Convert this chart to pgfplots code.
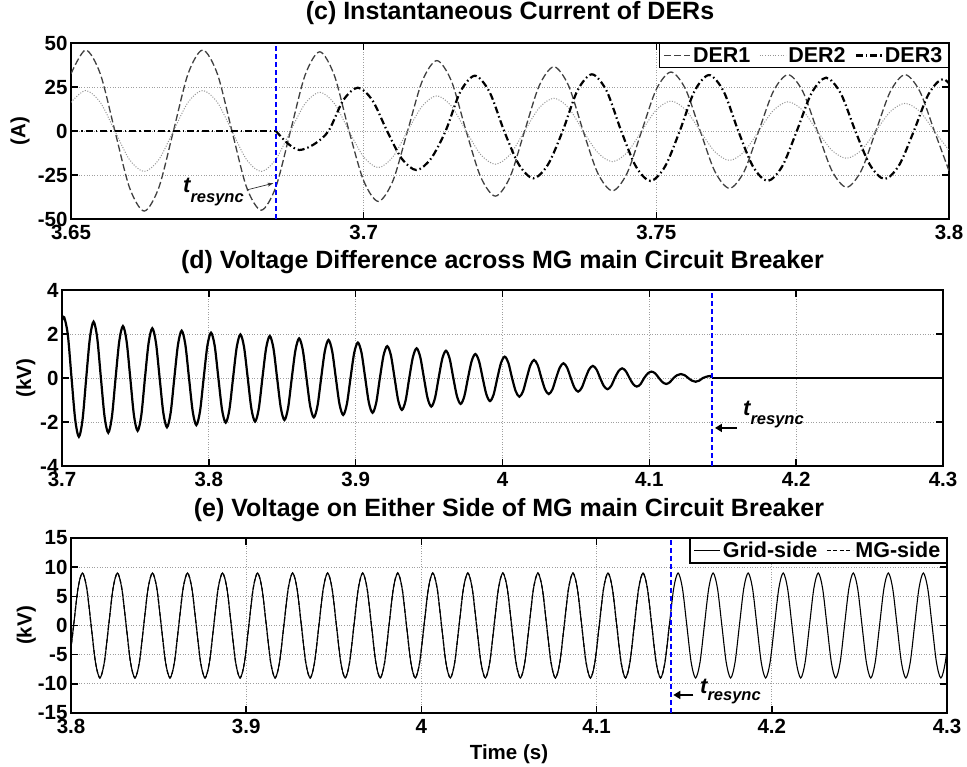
\documentclass[border=0pt]{standalone}
\usepackage{pgfplots}
\pgfplotsset{compat=1.18}
\usepackage{pgfplotstable}
\usepackage{fontspec}
\setmainfont{Liberation Sans}
\usetikzlibrary{arrows.meta}

\newcommand{\tickfont}{\fontsize{20.5}{24}\selectfont\bfseries}
\newcommand{\legfont}{\fontsize{21.5}{24}\selectfont\bfseries}
\newcommand{\titlefont}{\fontsize{25}{30}\selectfont\bfseries}
\newcommand{\tfont}{\fontsize{22}{22}\selectfont\bfseries\itshape}
\newcommand{\sfont}{\fontsize{16.5}{16.5}\selectfont\bfseries\itshape}

% ---------------- (c) DER currents ----------------
\pgfplotstableread[row sep=\\]{
t v\\
3.65 32.5\\ 3.6525 46\\ 3.655 32.5\\ 3.6575 0\\ 3.66 -32.2\\ 3.6625 -45.5\\ 3.665 -32.2\\ 3.6675 0\\
3.67 32.5\\ 3.6725 46\\ 3.675 32.5\\ 3.6775 0\\ 3.68 -32\\ 3.6825 -45\\ 3.685 -31.8\\ 3.6875 0\\
3.69 31.8\\ 3.6925 45\\ 3.695 31.5\\ 3.6975 0\\ 3.70 -28.3\\ 3.7025 -40\\ 3.705 -28.3\\ 3.7075 0\\
3.71 28.3\\ 3.7125 40\\ 3.715 28.3\\ 3.7175 0\\ 3.72 -26.2\\ 3.7225 -37\\ 3.725 -26.2\\ 3.7275 0\\
3.73 25.8\\ 3.7325 36.5\\ 3.735 25.8\\ 3.7375 0\\ 3.74 -24\\ 3.7425 -34\\ 3.745 -24\\ 3.7475 0\\
3.75 23.7\\ 3.7525 33.5\\ 3.755 23.7\\ 3.7575 0\\ 3.76 -23\\ 3.7625 -32.6\\ 3.765 -23\\ 3.7675 0\\
3.77 22.6\\ 3.7725 32\\ 3.775 22.6\\ 3.7775 0\\ 3.78 -22.6\\ 3.7825 -32\\ 3.785 -22.6\\ 3.7875 0\\
3.79 22.6\\ 3.7925 32\\ 3.795 22.6\\ 3.7975 0\\ 3.80 -22.6\\
}\derA

\pgfplotstableread[row sep=\\]{
t v\\
3.65 16.3\\ 3.6525 23\\ 3.655 16.3\\ 3.6575 0\\ 3.66 -16.3\\ 3.6625 -23\\ 3.665 -16.3\\ 3.6675 0\\
3.67 16.3\\ 3.6725 23\\ 3.675 16.3\\ 3.6775 0\\ 3.68 -16.3\\ 3.6825 -23\\ 3.685 -16.1\\ 3.6875 0\\
3.69 15.6\\ 3.6925 22\\ 3.695 15.6\\ 3.6975 0\\ 3.70 -14.7\\ 3.7025 -20.8\\ 3.705 -14.7\\ 3.7075 0\\
3.71 14.1\\ 3.7125 20\\ 3.715 14.1\\ 3.7175 0\\ 3.72 -13.4\\ 3.7225 -18.9\\ 3.725 -13.4\\ 3.7275 0\\
3.73 13.2\\ 3.7325 18.6\\ 3.735 13.2\\ 3.7375 0\\ 3.74 -12.3\\ 3.7425 -17.4\\ 3.745 -12.3\\ 3.7475 0\\
3.75 12\\ 3.7525 17\\ 3.755 12\\ 3.7575 0\\ 3.76 -11.8\\ 3.7625 -16.7\\ 3.765 -11.8\\ 3.7675 0\\
3.77 11.7\\ 3.7725 16.6\\ 3.775 11.7\\ 3.7775 0\\ 3.78 -11\\ 3.7825 -15.5\\ 3.785 -11\\ 3.7875 0\\
3.79 11.1\\ 3.7925 15.7\\ 3.795 11.1\\ 3.7975 0\\ 3.80 -11\\
}\derB

\pgfplotstableread[row sep=\\]{
t v\\
3.685 0\\ 3.687 -7\\ 3.689 -10.8\\ 3.6915 -7.6\\ 3.694 0\\ 3.6965 17.4\\ 3.699 24.6\\ 3.7015 17.4\\
3.704 0\\ 3.7065 -15.7\\ 3.709 -22.2\\ 3.7115 -15.7\\ 3.714 0\\ 3.7165 22.2\\ 3.719 31.4\\ 3.7215 22.2\\
3.724 0\\ 3.7265 -19\\ 3.729 -26.9\\ 3.7315 -19\\ 3.734 0\\ 3.7365 22.8\\ 3.739 32.2\\ 3.7415 22.8\\
3.744 0\\ 3.7465 -20.1\\ 3.749 -28.4\\ 3.7515 -20.1\\ 3.754 0\\ 3.7565 22.5\\ 3.759 31.8\\ 3.7615 22.5\\
3.764 0\\ 3.7665 -20.1\\ 3.769 -28.4\\ 3.7715 -20.1\\ 3.774 0\\ 3.7765 21.4\\ 3.779 30.3\\ 3.7815 21.4\\
3.784 0\\ 3.7865 -19.3\\ 3.789 -27.3\\ 3.7915 -19.3\\ 3.794 0\\ 3.7965 20.9\\ 3.799 29.5\\ 3.8015 20.9\\
}\derC

% ---------------- (d) voltage difference ----------------
\pgfplotstableread[row sep=\\]{
t v\\
3.7 2.62\\
3.7015 2.76\\ 3.704 1.95\\ 3.7065 0\\ 3.709 -1.89\\ 3.7115 -2.67\\ 3.714 -1.89\\ 3.7165 0\\ 3.719 1.81\\
3.7215 2.56\\ 3.724 1.81\\ 3.7265 0\\ 3.729 -1.76\\ 3.7315 -2.49\\ 3.734 -1.76\\ 3.7365 0\\ 3.739 1.67\\
3.7415 2.36\\ 3.744 1.67\\ 3.7465 0\\ 3.749 -1.70\\ 3.7515 -2.40\\ 3.754 -1.70\\ 3.7565 0\\ 3.759 1.60\\
3.7615 2.26\\ 3.764 1.60\\ 3.7665 0\\ 3.769 -1.58\\ 3.7715 -2.24\\ 3.774 -1.58\\ 3.7765 0\\ 3.779 1.52\\
3.7815 2.15\\ 3.784 1.52\\ 3.7865 0\\ 3.789 -1.51\\ 3.7915 -2.14\\ 3.794 -1.51\\ 3.7965 0\\ 3.799 1.46\\
3.8015 2.06\\ 3.804 1.46\\ 3.8065 0\\ 3.809 -1.44\\ 3.8115 -2.03\\ 3.814 -1.44\\ 3.8165 0\\ 3.819 1.40\\
3.8215 1.98\\ 3.824 1.40\\ 3.8265 0\\ 3.829 -1.40\\ 3.8315 -1.98\\ 3.834 -1.40\\ 3.8365 0\\ 3.839 1.35\\
3.8415 1.91\\ 3.844 1.35\\ 3.8465 0\\ 3.849 -1.35\\ 3.8515 -1.91\\ 3.854 -1.35\\ 3.8565 0\\ 3.859 1.27\\
3.8615 1.80\\ 3.864 1.27\\ 3.8665 0\\ 3.869 -1.27\\ 3.8715 -1.79\\ 3.874 -1.27\\ 3.8765 0\\ 3.879 1.22\\
3.8815 1.73\\ 3.884 1.22\\ 3.8865 0\\ 3.889 -1.19\\ 3.8915 -1.68\\ 3.894 -1.19\\ 3.8965 0\\ 3.899 1.14\\
3.9015 1.61\\ 3.904 1.14\\ 3.9065 0\\ 3.909 -1.12\\ 3.9115 -1.58\\ 3.914 -1.12\\ 3.9165 0\\ 3.919 1.03\\
3.9215 1.45\\ 3.924 1.03\\ 3.9265 0\\ 3.929 -1.03\\ 3.9315 -1.45\\ 3.934 -1.03\\ 3.9365 0\\ 3.939 0.95\\
3.9415 1.35\\ 3.944 0.95\\ 3.9465 0\\ 3.949 -0.92\\ 3.9515 -1.30\\ 3.954 -0.92\\ 3.9565 0\\ 3.959 0.88\\
3.9615 1.24\\ 3.964 0.88\\ 3.9665 0\\ 3.969 -0.83\\ 3.9715 -1.18\\ 3.974 -0.83\\ 3.9765 0\\ 3.979 0.77\\
3.9815 1.09\\ 3.984 0.77\\ 3.9865 0\\ 3.989 -0.74\\ 3.9915 -1.05\\ 3.994 -0.74\\ 3.9965 0\\ 3.999 0.69\\
4.0015 0.97\\ 4.004 0.69\\ 4.0065 0\\ 4.009 -0.60\\ 4.0115 -0.85\\ 4.014 -0.60\\ 4.0165 0\\ 4.019 0.58\\
4.0215 0.82\\ 4.024 0.58\\ 4.0265 0\\ 4.029 -0.52\\ 4.0315 -0.73\\ 4.034 -0.52\\ 4.0365 0\\ 4.039 0.47\\
4.0415 0.67\\ 4.044 0.47\\ 4.0465 0\\ 4.049 -0.44\\ 4.0515 -0.62\\ 4.054 -0.44\\ 4.0565 0\\ 4.059 0.39\\
4.0615 0.55\\ 4.064 0.39\\ 4.0665 0\\ 4.069 -0.36\\ 4.0715 -0.51\\ 4.074 -0.36\\ 4.0765 0\\ 4.079 0.31\\
4.0815 0.44\\ 4.084 0.31\\ 4.0865 0\\ 4.089 -0.28\\ 4.0915 -0.39\\ 4.094 -0.28\\ 4.0965 0\\ 4.099 0.21\\
4.1015 0.29\\ 4.104 0.21\\ 4.1065 0\\ 4.109 -0.19\\ 4.1115 -0.27\\ 4.114 -0.19\\ 4.1165 0\\ 4.119 0.13\\
4.1215 0.18\\ 4.124 0.13\\ 4.1265 0\\ 4.129 -0.12\\ 4.1315 -0.17\\ 4.134 -0.12\\ 4.1365 0\\ 4.139 0.06\\
4.1415 0.09\\ 4.1425 0\\
}\vdiff

% ---------------- (e) grid / MG side voltage ----------------
\pgfplotstableread[row sep=\\]{
t v\\
3.799 -6.36\\
3.8015 0\\ 3.804 6.36\\ 3.8065 9\\ 3.809 6.36\\ 3.8115 0\\ 3.814 -6.36\\ 3.8165 -9\\ 3.819 -6.36\\
3.8215 0\\ 3.824 6.36\\ 3.8265 9\\ 3.829 6.36\\ 3.8315 0\\ 3.834 -6.36\\ 3.8365 -9\\ 3.839 -6.36\\
3.8415 0\\ 3.844 6.36\\ 3.8465 9\\ 3.849 6.36\\ 3.8515 0\\ 3.854 -6.36\\ 3.8565 -9\\ 3.859 -6.36\\
3.8615 0\\ 3.864 6.36\\ 3.8665 9\\ 3.869 6.36\\ 3.8715 0\\ 3.874 -6.36\\ 3.8765 -9\\ 3.879 -6.36\\
3.8815 0\\ 3.884 6.36\\ 3.8865 9\\ 3.889 6.36\\ 3.8915 0\\ 3.894 -6.36\\ 3.8965 -9\\ 3.899 -6.36\\
3.9015 0\\ 3.904 6.36\\ 3.9065 9\\ 3.909 6.36\\ 3.9115 0\\ 3.914 -6.36\\ 3.9165 -9\\ 3.919 -6.36\\
3.9215 0\\ 3.924 6.36\\ 3.9265 9\\ 3.929 6.36\\ 3.9315 0\\ 3.934 -6.36\\ 3.9365 -9\\ 3.939 -6.36\\
3.9415 0\\ 3.944 6.36\\ 3.9465 9\\ 3.949 6.36\\ 3.9515 0\\ 3.954 -6.36\\ 3.9565 -9\\ 3.959 -6.36\\
3.9615 0\\ 3.964 6.36\\ 3.9665 9\\ 3.969 6.36\\ 3.9715 0\\ 3.974 -6.36\\ 3.9765 -9\\ 3.979 -6.36\\
3.9815 0\\ 3.984 6.36\\ 3.9865 9\\ 3.989 6.36\\ 3.9915 0\\ 3.994 -6.36\\ 3.9965 -9\\ 3.999 -6.36\\
4.0015 0\\ 4.004 6.36\\ 4.0065 9\\ 4.009 6.36\\ 4.0115 0\\ 4.014 -6.36\\ 4.0165 -9\\ 4.019 -6.36\\
4.0215 0\\ 4.024 6.36\\ 4.0265 9\\ 4.029 6.36\\ 4.0315 0\\ 4.034 -6.36\\ 4.0365 -9\\ 4.039 -6.36\\
4.0415 0\\ 4.044 6.36\\ 4.0465 9\\ 4.049 6.36\\ 4.0515 0\\ 4.054 -6.36\\ 4.0565 -9\\ 4.059 -6.36\\
4.0615 0\\ 4.064 6.36\\ 4.0665 9\\ 4.069 6.36\\ 4.0715 0\\ 4.074 -6.36\\ 4.0765 -9\\ 4.079 -6.36\\
4.0815 0\\ 4.084 6.36\\ 4.0865 9\\ 4.089 6.36\\ 4.0915 0\\ 4.094 -6.36\\ 4.0965 -9\\ 4.099 -6.36\\
4.1015 0\\ 4.104 6.36\\ 4.1065 9\\ 4.109 6.36\\ 4.1115 0\\ 4.114 -6.36\\ 4.1165 -9\\ 4.119 -6.36\\
4.1215 0\\ 4.124 6.36\\ 4.1265 9\\ 4.129 6.36\\ 4.1315 0\\ 4.134 -6.36\\ 4.1365 -9\\ 4.139 -6.36\\
4.1415 0\\ 4.144 6.36\\ 4.1465 9\\ 4.149 6.36\\ 4.1515 0\\ 4.154 -6.36\\ 4.1565 -9\\ 4.159 -6.36\\
4.1615 0\\ 4.164 6.36\\ 4.1665 9\\ 4.169 6.36\\ 4.1715 0\\ 4.174 -6.36\\ 4.1765 -9\\ 4.179 -6.36\\
4.1815 0\\ 4.184 6.36\\ 4.1865 9\\ 4.189 6.36\\ 4.1915 0\\ 4.194 -6.36\\ 4.1965 -9\\ 4.199 -6.36\\
4.2015 0\\ 4.204 6.36\\ 4.2065 9\\ 4.209 6.36\\ 4.2115 0\\ 4.214 -6.36\\ 4.2165 -9\\ 4.219 -6.36\\
4.2215 0\\ 4.224 6.36\\ 4.2265 9\\ 4.229 6.36\\ 4.2315 0\\ 4.234 -6.36\\ 4.2365 -9\\ 4.239 -6.36\\
4.2415 0\\ 4.244 6.36\\ 4.2465 9\\ 4.249 6.36\\ 4.2515 0\\ 4.254 -6.36\\ 4.2565 -9\\ 4.259 -6.36\\
4.2615 0\\ 4.264 6.36\\ 4.2665 9\\ 4.269 6.36\\ 4.2715 0\\ 4.274 -6.36\\ 4.2765 -9\\ 4.279 -6.36\\
4.2815 0\\ 4.284 6.36\\ 4.2865 9\\ 4.289 6.36\\ 4.2915 0\\ 4.294 -6.36\\ 4.2965 -9\\ 4.299 -6.36\\
4.3015 0\\
}\vgrid

\pgfplotsset{
  panel/.style={
    scale only axis, anchor=south west,
    axis line style={line width=1.5pt},
    every tick/.style={black, line width=1.5pt},
    major tick length=7pt,
    grid=major,
    grid style={line width=0.7pt, gray!75, dash pattern=on 1pt off 1.6pt},
    tick label style={font=\tickfont},
    xticklabel style={yshift=-3pt},
    /pgf/number format/assume math mode=true,
    title style={at={(0.5,1)}, anchor=base, font=\titlefont},
    ylabel style={font=\tickfont, anchor=center},
    xlabel style={font=\tickfont},
    legend style={draw=black, line width=1.5pt, fill=white, font=\legfont,
      at={(1,1)}, anchor=north east, inner xsep=4pt, inner ysep=1.5pt,
      /tikz/every even column/.append style={column sep=7pt}},
    legend cell align=left,
    legend image code/.code={\draw[##1] (0pt,0pt) -- (26pt,0pt);},
  },
  resync/.style={blue, line width=1.8pt, dash pattern=on 5pt off 3pt, forget plot},
}

\begin{document}
\begin{tikzpicture}[x=1pt,y=1pt]
\useasboundingbox (0,0) rectangle (967,767);

% ---------- (c) ----------
\begin{axis}[panel, at={(71pt,548pt)}, width=878pt, height=176pt,
  xmin=3.65, xmax=3.8, ymin=-50, ymax=50,
  xtick={3.65,3.7,3.75,3.8}, ytick={-50,-25,0,25,50},
  title={(c) Instantaneous Current of DERs}, title style={yshift=17pt},
  ylabel={(A)}, ylabel style={at={(axis description cs:-0.058,0.5)}},
  legend columns=3]
\addplot[black!75, line width=1.3pt, dash pattern=on 7pt off 3pt, smooth] table[x=t,y=v] {\derA};
\addlegendentry{DER1}
\addplot[black!42, line width=1.0pt, dash pattern=on 1pt off 1.6pt, smooth] table[x=t,y=v] {\derB};
\addlegendentry{DER2}
\addplot[black, line width=2.2pt, dash pattern=on 7pt off 3pt on 1.5pt off 3pt, forget plot] coordinates {(3.65,0) (3.685,0)};
\addplot[black, line width=2.2pt, dash pattern=on 7pt off 3pt on 1.5pt off 3pt, smooth] table[x=t,y=v] {\derC};
\addlegendentry{DER3}
\addplot[resync] coordinates {(3.685,-50) (3.685,50)};
\node[anchor=base west, inner sep=0pt] at (axis cs:3.66913,-35.2) {\tfont t\raisebox{-10pt}{\sfont resync}};
\draw[-{Stealth[length=6pt,width=4pt]}, line width=0.7pt, black!80] (axis cs:3.68002,-33.5) -- (axis cs:3.68456,-29.7);
\end{axis}

% ---------- (d) ----------
\begin{axis}[panel, at={(62pt,301pt)}, width=881pt, height=176pt,
  xmin=3.7, xmax=4.3, ymin=-4, ymax=4,
  xtick={3.7,3.8,3.9,4,4.1,4.2,4.3}, ytick={-4,-2,0,2,4},
  title={(d) Voltage Difference across MG main Circuit Breaker}, title style={yshift=16pt},
  ylabel={(kV)}, ylabel style={at={(axis description cs:-0.041,0.5)}}]
\addplot[black, line width=2.2pt, smooth] table[x=t,y=v] {\vdiff};
\addplot[black, line width=1.8pt] coordinates {(4.1425,0) (4.3,0)};
\addplot[black, line width=2.6pt, dash pattern=on 8pt off 20pt] coordinates {(4.1425,0) (4.3,0)};
\addplot[resync] coordinates {(4.1425,-4) (4.1425,4)};
\node[anchor=base west, inner sep=0pt] at (axis cs:4.1638,-1.727) {\tfont t\raisebox{-9pt}{\sfont resync}};
\draw[-{Triangle[length=7pt,width=8pt]}, line width=2pt] (axis cs:4.1597,-2.27) -- (axis cs:4.1447,-2.27);
\end{axis}

% ---------- (e) ----------
\begin{axis}[panel, at={(71pt,54pt)}, width=876pt, height=175pt,
  xmin=3.8, xmax=4.3, ymin=-15, ymax=15,
  xtick={3.8,3.9,4,4.1,4.2,4.3}, ytick={-15,-10,-5,0,5,10,15},
  title={(e) Voltage on Either Side of MG main Circuit Breaker}, title style={yshift=15pt},
  ylabel={(kV)}, ylabel style={at={(axis description cs:-0.051,0.5)}},
  xlabel={Time (s)}, xlabel style={at={(axis description cs:0.5,0)}, anchor=base, yshift=-47pt},
  legend columns=2]
\addplot[black, line width=1.1pt, smooth] table[x=t,y=v] {\vgrid};
\addlegendentry{Grid-side}
\addplot[black, line width=1.2pt, dash pattern=on 4pt off 2.5pt, smooth, restrict x to domain=3.79:4.1425] table[x=t,y=v] {\vgrid};
\addlegendentry{MG-side}
\addplot[resync] coordinates {(4.1425,-15) (4.1425,15)};
\node[anchor=base west, inner sep=0pt] at (axis cs:4.1590,-11.74) {\tfont t\raisebox{-7pt}{\sfont resync}};
\draw[-{Triangle[length=7pt,width=8pt]}, line width=2pt] (axis cs:4.1552,-11.91) -- (axis cs:4.1438,-11.91);
\end{axis}
\end{tikzpicture}
\end{document}
